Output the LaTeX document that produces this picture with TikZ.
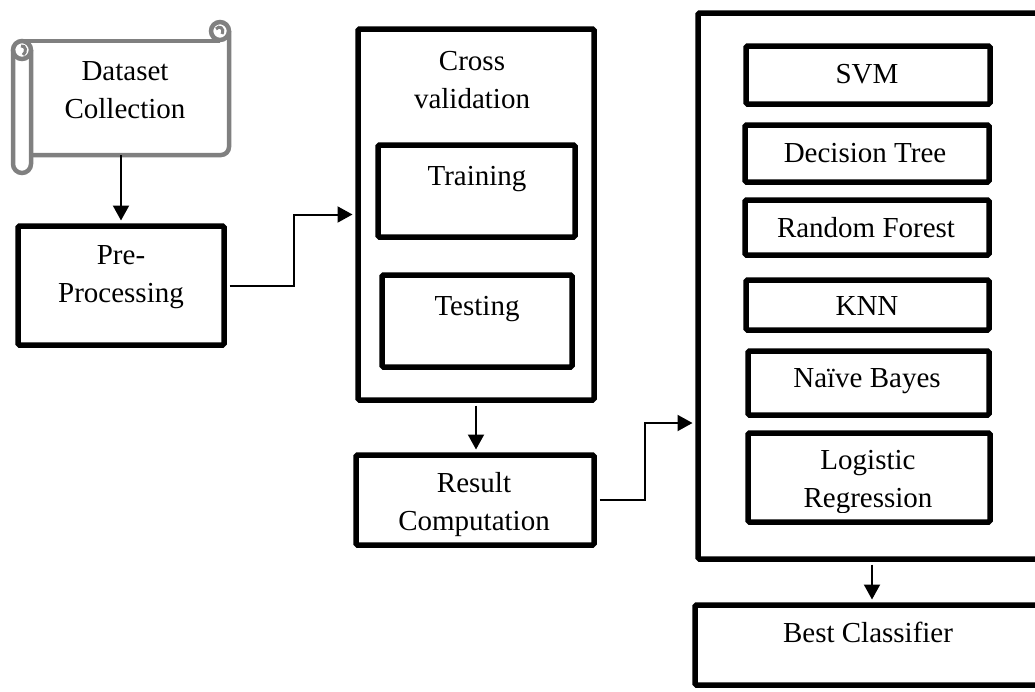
\documentclass[tikz,border=0pt]{standalone}
\usepackage{fontspec}
\setmainfont{Liberation Serif}
\usetikzlibrary{arrows.meta,fit}
\definecolor{scrollgray}{RGB}{128,128,128}
\begin{document}
\begin{tikzpicture}[x=1pt,y=-1pt,
  box/.style={draw, line width=5.5pt, rounded corners=1.5pt, inner sep=0pt},
  ghost/.style={inner sep=0pt},
  lbl/.style={font=\fontsize{29}{38}\selectfont, inner sep=0pt, anchor=base, align=center},
  conn/.style={line width=2pt, -{Triangle[length=15pt,width=16pt]}, shorten >=2.75pt, shorten <=2.75pt},
  scrollline/.style={draw=scrollgray, line width=4.5pt}
]
\useasboundingbox (0,0) rectangle (1035,691);
\clip (0,0) rectangle (1035,691);

% scroll (Dataset Collection)
\draw[scrollline, rounded corners=9pt] (13,50) -- (13,173) -- (31,173) -- (31,50);
\draw[scrollline] (22,50) circle[radius=9pt];
\draw[scrollline, line width=3pt] (21,46) .. controls (26,45) and (27,52) .. (23,55);
\draw[scrollline] (22,41) -- (220,41);
\draw[scrollline, rounded corners=8pt] (229,31) -- (229,155) -- (31,155);
\draw[scrollline] (220,31) circle[radius=9pt];
\draw[scrollline, line width=3pt] (216,29) .. controls (219,25) and (225,28) .. (222,34);
\node[ghost, fit={(31,41)(229,155)}] (scroll) {};
\node[lbl] (scroll-t) at (125,118) {Dataset\\Collection};

% boxes
\node[box, fit={(18,226)(224,345)}] (pre) {};
\node[lbl] (pre-t) at (121,302) {Pre-\\Processing};

\node[box, fit={(358,29)(594,400)}] (cv) {};
\node[lbl] (cv-t) at (472,108) {Cross\\validation};
\node[box, fit={(378,145)(575,237)}] (train) {};
\node[lbl] (train-t) at (477,185) {Training};
\node[box, fit={(382,275)(572,367)}] (test) {};
\node[lbl] (test-t) at (477,315) {Testing};

\node[box, fit={(356,455)(594,545)}] (result) {};
\node[lbl] (result-t) at (474,530) {Result\\Computation};

\node[box, fit={(698,13)(1060,559)}] (big) {};
\node[box, fit={(746,46)(990,104)}] (svm) {};
\node[lbl] (svm-t) at (867,83) {SVM};
\node[box, fit={(745,125)(989,182)}] (dt) {};
\node[lbl] (dt-t) at (865,162) {Decision Tree};
\node[box, fit={(745,200)(989,255)}] (rf) {};
\node[lbl] (rf-t) at (866,237) {Random Forest};
\node[box, fit={(746,280)(989,330)}] (knn) {};
\node[lbl] (knn-t) at (867,315) {KNN};
\node[box, fit={(748,351)(989,415)}] (nb) {};
\node[lbl] (nb-t) at (867,387) {Naïve Bayes};
\node[box, fit={(748,433)(990,522)}] (lr) {};
\begin{scope}
\clip (748,433) rectangle (990,512);
\node[lbl] (lr-t) at (868,507) {Logistic\\Regression};
\end{scope}

\node[box, fit={(695,605)(1060,685)}] (best) {};
\node[lbl] (best-t) at (868,642) {Best Classifier};

% connectors
\draw[conn, shorten <=0pt] (pre.north |- scroll.south) -- (pre.north);
\draw[conn] (pre.east) -- ++(67,0) |- (cv.west);
\draw[conn] (cv.south) -- (cv.south |- result.north);
\draw[conn] (result.east) -- ++(48,0) |- (big.west |- 0,423);
\draw[conn] (big.south -| 872,0) -- (best.north -| 872,0);
\end{tikzpicture}
\end{document}
